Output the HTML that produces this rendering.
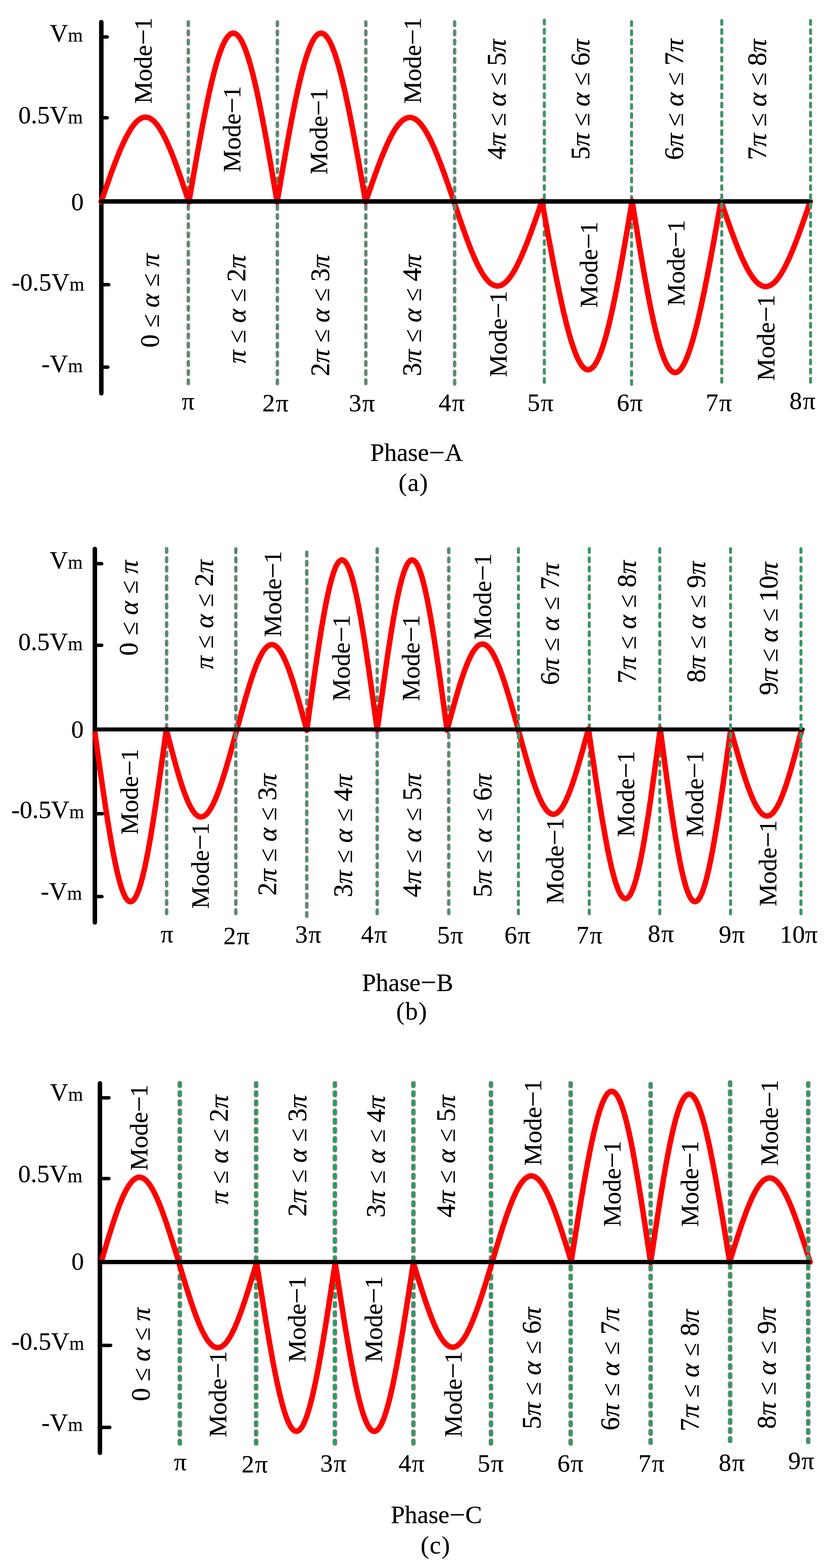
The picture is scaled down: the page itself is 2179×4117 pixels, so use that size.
<!DOCTYPE html>
<html lang="en"><head><meta charset="utf-8"><title>Phase waveforms</title>
<style>html,body{margin:0;padding:0;background:#fff}svg{display:block}text{font-family:"Liberation Serif","DejaVu Serif",serif;fill:#000;stroke:#000;stroke-width:0.3px}text.m{fill:#000;stroke:#000;stroke-width:0.4px}.i{font-style:italic}</style></head><body>
<svg width="2179" height="4117" viewBox="0 0 2179 4117" role="img" aria-label="Phase A, B and C waveforms">
<rect width="2179" height="4117" fill="#fff"/>
<defs><pattern id="p0" width="16" height="24.11" patternUnits="userSpaceOnUse"><rect x="5.07" y="1.65" width="5.85" height="15.5" rx="2.9" fill="#00b050" stroke="#7f7f7f" stroke-width="3.3"/></pattern><pattern id="p1" width="16" height="24.13" patternUnits="userSpaceOnUse"><rect x="4.85" y="0.95" width="6.3" height="16" rx="2.8" fill="#00b050" stroke="#7f7f7f" stroke-width="1.9"/></pattern><pattern id="p2" width="16" height="24.16" patternUnits="userSpaceOnUse"><rect x="4.85" y="0.95" width="6.3" height="16" rx="2.8" fill="#00b050" stroke="#7f7f7f" stroke-width="1.9"/></pattern><pattern id="p3" width="16" height="24.14" patternUnits="userSpaceOnUse"><rect x="5.07" y="1.65" width="5.85" height="15.5" rx="2.9" fill="#00b050" stroke="#7f7f7f" stroke-width="3.3"/></pattern><pattern id="p4" width="16" height="24.09" patternUnits="userSpaceOnUse"><rect x="4.85" y="0.95" width="6.3" height="16" rx="2.8" fill="#00b050" stroke="#7f7f7f" stroke-width="1.9"/></pattern><pattern id="p5" width="16" height="24.32" patternUnits="userSpaceOnUse"><rect x="5.07" y="1.65" width="5.85" height="15.5" rx="2.9" fill="#00b050" stroke="#7f7f7f" stroke-width="3.3"/></pattern><pattern id="p6" width="16" height="24.27" patternUnits="userSpaceOnUse"><rect x="5.07" y="1.65" width="5.85" height="15.5" rx="2.9" fill="#00b050" stroke="#7f7f7f" stroke-width="3.3"/></pattern><pattern id="p7" width="16" height="24.31" patternUnits="userSpaceOnUse"><rect x="5.07" y="1.65" width="5.85" height="15.5" rx="2.9" fill="#00b050" stroke="#7f7f7f" stroke-width="3.3"/></pattern><pattern id="p8" width="16" height="24.33" patternUnits="userSpaceOnUse"><rect x="4.85" y="0.95" width="6.3" height="16" rx="2.8" fill="#00b050" stroke="#7f7f7f" stroke-width="1.9"/></pattern><pattern id="p9" width="16" height="24.08" patternUnits="userSpaceOnUse"><rect x="3.45" y="1.5" width="9.1" height="15.8" rx="3.6" fill="#00b050" stroke="#7f7f7f" stroke-width="3"/></pattern><pattern id="p10" width="16" height="24.07" patternUnits="userSpaceOnUse"><rect x="3.45" y="1.5" width="9.1" height="15.8" rx="3.6" fill="#00b050" stroke="#7f7f7f" stroke-width="3"/></pattern><pattern id="p11" width="16" height="23.97" patternUnits="userSpaceOnUse"><rect x="3.45" y="1.5" width="9.1" height="15.8" rx="3.6" fill="#00b050" stroke="#7f7f7f" stroke-width="3"/></pattern><pattern id="p12" width="16" height="23.96" patternUnits="userSpaceOnUse"><rect x="3.45" y="1.5" width="9.1" height="15.8" rx="3.6" fill="#00b050" stroke="#7f7f7f" stroke-width="3"/></pattern></defs>
<g id="chart-a">
<rect transform="translate(486.4,52.9)" width="16" height="959.1" fill="url(#p0)"/>
<rect transform="translate(720.2,52.9)" width="16" height="959.1" fill="url(#p0)"/>
<rect transform="translate(952.4,52.9)" width="16" height="959.1" fill="url(#p0)"/>
<rect transform="translate(1421,49)" width="16" height="959" fill="url(#p1)"/>
<rect transform="translate(1650,53)" width="16" height="960" fill="url(#p2)"/>
<line x1="266" y1="57.9" x2="266" y2="1032.6" stroke="#000" stroke-width="11.8" stroke-linecap="round"/>
<path d="M265.5,530.2 271.52,512.73 277.53,495.37 283.54,478.22 289.53,461.39 295.5,444.99 301.46,429.11 307.39,413.86 313.3,399.32 319.17,385.59 325.02,372.76 330.84,360.89 336.62,350.07 342.38,340.36 348.11,331.82 353.81,324.51 359.48,318.46 365.14,313.73 370.77,310.32 376.39,308.28 382,307.6 387.6,308.3 393.19,310.36 398.79,313.79 404.39,318.54 409.99,324.61 415.61,331.94 421.24,340.5 426.88,350.23 432.54,361.07 438.22,372.96 443.92,385.81 449.63,399.56 455.37,414.12 461.12,429.39 466.89,445.29 472.67,461.71 478.47,478.56 484.27,495.73 490.09,513.11 495.9,530.6 501.9,495.8 507.9,461.21 513.89,427.04 519.86,393.52 525.82,360.84 531.77,329.21 537.69,298.82 543.58,269.86 549.45,242.5 555.29,216.93 561.11,193.28 566.9,171.72 572.66,152.37 578.39,135.35 584.1,120.77 589.79,108.71 595.46,99.26 601.12,92.46 606.76,88.37 612.4,87 618.03,88.37 623.66,92.46 629.3,99.26 634.94,108.71 640.59,120.77 646.25,135.35 651.94,152.37 657.64,171.72 663.35,193.28 669.09,216.93 674.86,242.5 680.64,269.86 686.44,298.82 692.27,329.21 698.11,360.84 703.97,393.52 709.84,427.04 715.72,461.21 721.61,495.8 727.5,530.6 733.4,495.8 739.3,461.21 745.2,427.04 751.08,393.52 756.95,360.84 762.81,329.21 768.64,298.82 774.46,269.86 780.26,242.5 786.03,216.93 791.79,193.28 797.52,171.72 803.24,152.37 808.94,135.35 814.62,120.77 820.29,108.71 825.95,99.26 831.6,92.46 837.25,88.37 842.9,87 848.56,88.37 854.22,92.46 859.9,99.26 865.59,108.71 871.3,120.77 877.04,135.35 882.8,152.37 888.58,171.72 894.39,193.28 900.23,216.93 906.1,242.5 912,269.86 917.92,298.82 923.87,329.21 929.84,360.84 935.83,393.52 941.83,427.04 947.85,461.21 953.87,495.8 959.9,530.6 965.85,513.18 971.79,495.87 977.73,478.78 983.66,462 989.57,445.64 995.46,429.81 1001.34,414.6 1007.19,400.09 1013.02,386.4 1018.82,373.59 1024.61,361.74 1030.36,350.93 1036.09,341.23 1041.8,332.69 1047.49,325.37 1053.17,319.31 1058.83,314.55 1064.47,311.11 1070.11,309.03 1075.75,308.3 1081.39,308.94 1087.03,310.94 1092.67,314.29 1098.33,318.97 1104.01,324.94 1109.7,332.18 1115.41,340.64 1121.14,350.25 1126.89,360.98 1132.67,372.74 1138.48,385.46 1144.31,399.07 1150.16,413.49 1156.04,428.62 1161.93,444.37 1167.84,460.64 1173.77,477.33 1179.71,494.34 1185.65,511.57 1191.6,528.9 1197.44,546.34 1203.28,563.67 1209.11,580.79 1214.94,597.59 1220.75,613.96 1226.54,629.81 1232.32,645.03 1238.09,659.54 1243.83,673.24 1249.55,686.05 1255.26,697.89 1260.94,708.69 1266.61,718.37 1272.26,726.89 1277.9,734.18 1283.53,740.21 1289.15,744.92 1294.76,748.31 1300.38,750.34 1306,751 1311.63,750.29 1317.27,748.21 1322.92,744.77 1328.59,740.01 1334.28,733.93 1340,726.59 1345.75,718.02 1351.52,708.29 1357.32,697.44 1363.15,685.55 1369.01,672.69 1374.9,658.94 1380.82,644.38 1386.77,629.11 1392.73,613.21 1398.72,596.79 1404.73,579.94 1410.74,562.77 1416.77,545.39 1422.8,527.9 1429.09,562.67 1435.37,597.22 1441.64,631.35 1447.89,664.84 1454.13,697.48 1460.34,729.08 1466.52,759.44 1472.68,788.37 1478.8,815.69 1484.88,841.24 1490.93,864.86 1496.95,886.4 1502.92,905.73 1508.86,922.72 1514.76,937.29 1520.64,949.33 1526.48,958.77 1532.29,965.55 1538.08,969.64 1543.85,971 1549.6,969.63 1555.34,965.53 1561.07,958.74 1566.8,949.29 1572.52,937.24 1578.25,922.66 1583.98,905.66 1589.72,886.32 1595.47,864.77 1601.23,841.14 1607.01,815.58 1612.8,788.25 1618.6,759.31 1624.41,728.94 1630.24,697.33 1636.08,664.68 1641.92,631.18 1647.78,597.04 1653.64,562.48 1659.5,527.7 1665.2,563.05 1670.9,598.18 1676.59,632.88 1682.27,666.93 1687.95,700.12 1693.62,732.25 1699.29,763.12 1704.94,792.54 1710.58,820.32 1716.21,846.3 1721.83,870.32 1727.45,892.22 1733.06,911.88 1738.67,929.17 1744.28,943.98 1749.89,956.23 1755.51,965.84 1761.14,972.74 1766.79,976.91 1772.45,978.3 1778.14,976.92 1783.85,972.76 1789.6,965.87 1795.37,956.27 1801.19,944.03 1807.04,929.23 1812.93,911.95 1818.87,892.3 1824.84,870.41 1830.86,846.4 1836.92,820.43 1843.01,792.66 1849.15,763.25 1855.32,732.39 1861.51,700.27 1867.74,667.09 1873.98,633.05 1880.25,598.36 1886.52,563.24 1892.8,527.9 1898.82,545.51 1904.83,563.01 1910.83,580.29 1916.83,597.25 1922.81,613.78 1928.77,629.79 1934.71,645.17 1940.63,659.82 1946.53,673.67 1952.4,686.61 1958.25,698.58 1964.07,709.5 1969.87,719.3 1975.65,727.92 1981.41,735.32 1987.15,741.43 1992.87,746.23 1998.59,749.69 2004.3,751.78 2010,752.5 2015.7,751.83 2021.41,749.79 2027.13,746.38 2032.85,741.63 2038.59,735.57 2044.35,728.22 2050.13,719.65 2055.93,709.9 2061.75,699.03 2067.6,687.11 2073.47,674.22 2079.37,660.42 2085.29,645.82 2091.23,630.49 2097.19,614.53 2103.17,598.05 2109.17,581.14 2115.17,563.91 2121.18,546.46 2127.2,528.9" fill="none" stroke="#ff0000" stroke-width="14.4" stroke-linejoin="round" stroke-linecap="round"/>
<line x1="266" y1="96.9" x2="281.5" y2="96.9" stroke="#000" stroke-width="9" stroke-linecap="round"/><line x1="266" y1="309.2" x2="281.5" y2="309.2" stroke="#000" stroke-width="9" stroke-linecap="round"/><line x1="266" y1="747.5" x2="285.5" y2="747.5" stroke="#000" stroke-width="9" stroke-linecap="round"/><line x1="266" y1="963.9" x2="283.1" y2="963.9" stroke="#000" stroke-width="9" stroke-linecap="round"/>
<rect transform="translate(1185.5,52.9)" width="16" height="960.1" fill="url(#p3)"/>
<line x1="266" y1="528.9" x2="2127.15" y2="528.9" stroke="#000" stroke-width="11.7" stroke-linecap="round"/>
<rect transform="translate(1886.8,50)" width="16" height="957.5" fill="url(#p4)"/>
<rect transform="translate(2119.9,50)" width="16" height="957.5" fill="url(#p4)"/>
<text x="217.4" y="108.8" font-size="66" text-anchor="end">V<tspan font-size="50">m</tspan></text>
<text x="217.4" y="323.8" font-size="66" text-anchor="end">0.5V<tspan font-size="50">m</tspan></text>
<text x="219.71" y="552.3" font-size="66" text-anchor="end">0</text>
<text x="221.5" y="763.2" font-size="66" text-anchor="end">-0.5V<tspan font-size="50">m</tspan></text>
<text x="217.4" y="976.7" font-size="66" text-anchor="end">-V<tspan font-size="50">m</tspan></text>
<text x="493.8" y="1075.3" font-size="66" text-anchor="middle">π</text>
<text x="723.1" y="1080.2" font-size="66" text-anchor="middle">2<tspan dx="2.2">π</tspan></text>
<text x="950" y="1080.2" font-size="66" text-anchor="middle">3<tspan dx="2.2">π</tspan></text>
<text x="1185.75" y="1078.6" font-size="66" text-anchor="middle">4<tspan dx="2.2">π</tspan></text>
<text x="1418.75" y="1078.6" font-size="66" text-anchor="middle">5<tspan dx="2.2">π</tspan></text>
<text x="1653.4" y="1078.6" font-size="66" text-anchor="middle">6<tspan dx="2.2">π</tspan></text>
<text x="1887" y="1078.6" font-size="66" text-anchor="middle">7<tspan dx="2.2">π</tspan></text>
<text x="2106.75" y="1074.4" font-size="66" text-anchor="middle">8<tspan dx="2.2">π</tspan></text>
<text transform="translate(398.44,272.31) rotate(-90)" font-size="66">Mode<tspan font-size="74" dy="2.6">−</tspan><tspan dy="-2.6" dx="-2.5">1</tspan></text>
<text transform="translate(630.94,451.91) rotate(-90)" font-size="66">Mode<tspan font-size="74" dy="2.6">−</tspan><tspan dy="-2.6" dx="-2.5">1</tspan></text>
<text transform="translate(858.54,457.91) rotate(-90)" font-size="66">Mode<tspan font-size="74" dy="2.6">−</tspan><tspan dy="-2.6" dx="-2.5">1</tspan></text>
<text transform="translate(1104.94,271.91) rotate(-90)" font-size="66">Mode<tspan font-size="74" dy="2.6">−</tspan><tspan dy="-2.6" dx="-2.5">1</tspan></text>
<text transform="translate(1329.94,989.91) rotate(-90)" font-size="66">Mode<tspan font-size="74" dy="2.6">−</tspan><tspan dy="-2.6" dx="-2.5">1</tspan></text>
<text transform="translate(1567.74,807.91) rotate(-90)" font-size="66">Mode<tspan font-size="74" dy="2.6">−</tspan><tspan dy="-2.6" dx="-2.5">1</tspan></text>
<text transform="translate(1796.64,803.51) rotate(-90)" font-size="66">Mode<tspan font-size="74" dy="2.6">−</tspan><tspan dy="-2.6" dx="-2.5">1</tspan></text>
<text transform="translate(2032.94,999.91) rotate(-90)" font-size="66">Mode<tspan font-size="74" dy="2.6">−</tspan><tspan dy="-2.6" dx="-2.5">1</tspan></text>
<text transform="translate(416.7,912.66) rotate(-90)" font-size="70" class="m" textLength="247.06" lengthAdjust="spacing">0 <tspan font-size="64">≤</tspan> <tspan class="i">α</tspan> <tspan font-size="64">≤</tspan> <tspan class="i">π</tspan></text>
<text transform="translate(644.1,954.35) rotate(-90)" font-size="70" class="m" textLength="285.05" lengthAdjust="spacing"><tspan class="i">π</tspan> <tspan font-size="64">≤</tspan> <tspan class="i">α</tspan> <tspan font-size="64">≤</tspan> 2<tspan class="i">π</tspan></text>
<text transform="translate(864.3,987.66) rotate(-90)" font-size="70" class="m" textLength="318.46" lengthAdjust="spacing">2<tspan class="i">π</tspan> <tspan font-size="64">≤</tspan> <tspan class="i">α</tspan> <tspan font-size="64">≤</tspan> 3<tspan class="i">π</tspan></text>
<text transform="translate(1105.3,987.66) rotate(-90)" font-size="70" class="m" textLength="319.26" lengthAdjust="spacing">3<tspan class="i">π</tspan> <tspan font-size="64">≤</tspan> <tspan class="i">α</tspan> <tspan font-size="64">≤</tspan> 4<tspan class="i">π</tspan></text>
<text transform="translate(1327.3,419.16) rotate(-90)" font-size="70" class="m" textLength="316.26" lengthAdjust="spacing">4<tspan class="i">π</tspan> <tspan font-size="64">≤</tspan> <tspan class="i">α</tspan> <tspan font-size="64">≤</tspan> 5<tspan class="i">π</tspan></text>
<text transform="translate(1547.3,419.16) rotate(-90)" font-size="70" class="m" textLength="316.26" lengthAdjust="spacing">5<tspan class="i">π</tspan> <tspan font-size="64">≤</tspan> <tspan class="i">α</tspan> <tspan font-size="64">≤</tspan> 6<tspan class="i">π</tspan></text>
<text transform="translate(1793,420.16) rotate(-90)" font-size="70" class="m" textLength="318.26" lengthAdjust="spacing">6<tspan class="i">π</tspan> <tspan font-size="64">≤</tspan> <tspan class="i">α</tspan> <tspan font-size="64">≤</tspan> 7<tspan class="i">π</tspan></text>
<text transform="translate(2010.8,420.16) rotate(-90)" font-size="70" class="m" textLength="317.26" lengthAdjust="spacing">7<tspan class="i">π</tspan> <tspan font-size="64">≤</tspan> <tspan class="i">α</tspan> <tspan font-size="64">≤</tspan> 8<tspan class="i">π</tspan></text>
<text x="1093.75" y="1209.9" font-size="66" text-anchor="middle">Phase<tspan font-size="74" dy="2.6">−</tspan><tspan dy="-2.6">A</tspan></text>
<text x="1085.75" y="1289.1" font-size="66" text-anchor="middle" letter-spacing="1.9">(a)</text>
</g>
<g id="chart-b">
<rect transform="translate(429.4,1436)" width="16" height="967.3" fill="url(#p5)"/>
<rect transform="translate(797.3,1445.3)" width="16" height="965.3" fill="url(#p6)"/>
<rect transform="translate(982.3,1436.5)" width="16" height="966.8" fill="url(#p7)"/>
<rect transform="translate(1170.1,1436.5)" width="16" height="966.8" fill="url(#p7)"/>
<rect transform="translate(1539,1436.5)" width="16" height="966.8" fill="url(#p8)"/>
<rect transform="translate(1724.1,1436.5)" width="16" height="966.8" fill="url(#p8)"/>
<line x1="249.0" y1="1441.5" x2="249.0" y2="2421.8" stroke="#000" stroke-width="11.8" stroke-linecap="round"/>
<path d="M249.3,1924.2 254.14,1959.12 258.97,1993.83 263.8,2028.11 268.62,2061.74 273.42,2094.52 278.2,2126.24 282.97,2156.7 287.71,2185.73 292.43,2213.13 297.12,2238.73 301.8,2262.39 306.44,2283.94 311.06,2303.26 315.66,2320.22 320.24,2334.72 324.81,2346.67 329.36,2356 333.89,2362.63 338.42,2366.54 342.95,2367.7 347.48,2366.09 352.01,2361.73 356.54,2354.65 361.09,2344.87 365.66,2332.47 370.24,2317.52 374.84,2300.11 379.46,2280.34 384.1,2258.34 388.78,2234.23 393.47,2208.18 398.19,2180.33 402.93,2150.85 407.7,2119.94 412.48,2087.77 417.28,2054.54 422.1,2020.46 426.93,1985.73 431.76,1950.57 436.6,1915.2 441.27,1933.23 445.93,1951.15 450.59,1968.85 455.23,1986.21 459.87,2003.14 464.49,2019.53 469.1,2035.27 473.69,2050.27 478.26,2064.44 482.82,2077.69 487.36,2089.94 491.88,2101.11 496.38,2111.14 500.87,2119.95 505.35,2127.51 509.83,2133.75 514.29,2138.65 518.76,2142.17 523.23,2144.29 527.7,2145 532.18,2144.29 536.68,2142.17 541.2,2138.65 545.73,2133.75 550.29,2127.51 554.88,2119.95 559.49,2111.14 564.13,2101.11 568.81,2089.94 573.52,2077.69 578.26,2064.44 583.03,2050.27 587.83,2035.27 592.65,2019.53 597.51,2003.14 602.38,1986.21 607.27,1968.85 612.17,1951.15 617.08,1933.23 622,1915.2 626.74,1897.69 631.48,1880.29 636.21,1863.11 640.93,1846.25 645.63,1829.82 650.32,1813.91 654.99,1798.63 659.63,1784.07 664.25,1770.33 668.85,1757.48 673.42,1745.61 677.97,1734.78 682.5,1725.07 687,1716.54 691.48,1709.24 695.95,1703.22 700.4,1698.51 704.84,1695.14 709.27,1693.13 713.7,1692.5 718.13,1693.25 722.56,1695.38 727,1698.87 731.45,1703.7 735.92,1709.84 740.4,1717.26 744.9,1725.91 749.43,1735.74 753.98,1746.69 758.55,1758.68 763.15,1771.65 767.77,1785.51 772.41,1800.19 777.08,1815.59 781.77,1831.62 786.47,1848.17 791.19,1865.15 795.92,1882.45 800.66,1899.97 805.4,1917.6 810.18,1882.48 814.95,1847.59 819.72,1813.12 824.48,1779.29 829.22,1746.32 833.94,1714.41 838.65,1683.75 843.33,1654.53 847.99,1626.93 852.62,1601.12 857.24,1577.26 861.82,1555.5 866.38,1535.98 870.92,1518.8 875.44,1504.09 879.95,1491.92 884.44,1482.38 888.91,1475.52 893.38,1471.38 897.85,1470 902.32,1471.37 906.79,1475.5 911.26,1482.35 915.75,1491.88 920.26,1504.04 924.78,1518.74 929.32,1535.91 933.88,1555.42 938.46,1577.17 943.07,1601.02 947.71,1626.82 952.37,1654.41 957.05,1683.62 961.76,1714.27 966.48,1746.17 971.22,1779.13 975.98,1812.95 980.75,1847.41 985.52,1882.29 990.3,1917.4 995.04,1882.3 999.78,1847.42 1004.51,1812.96 1009.23,1779.16 1013.93,1746.2 1018.62,1714.3 1023.29,1683.65 1027.93,1654.44 1032.55,1626.86 1037.15,1601.06 1041.72,1577.22 1046.27,1555.47 1050.8,1535.95 1055.3,1518.78 1059.78,1504.07 1064.25,1491.91 1068.7,1482.37 1073.14,1475.52 1077.57,1471.38 1082,1470 1086.43,1471.37 1090.86,1475.5 1095.3,1482.34 1099.75,1491.87 1104.22,1504.02 1108.7,1518.72 1113.2,1535.88 1117.73,1555.39 1122.28,1577.13 1126.85,1600.96 1131.45,1626.75 1136.07,1654.32 1140.71,1683.52 1145.38,1714.16 1150.07,1746.05 1154.77,1779 1159.49,1812.79 1164.22,1847.24 1168.96,1882.11 1173.7,1917.2 1178.46,1899.48 1183.22,1881.87 1187.98,1864.48 1192.72,1847.41 1197.45,1830.77 1202.17,1814.66 1206.86,1799.18 1211.54,1784.43 1216.2,1770.49 1220.83,1757.46 1225.45,1745.41 1230.04,1734.41 1234.62,1724.54 1239.18,1715.85 1243.72,1708.39 1248.25,1702.22 1252.77,1697.37 1257.28,1693.87 1261.79,1691.74 1266.3,1691 1270.82,1691.64 1275.34,1693.67 1279.88,1697.07 1284.43,1701.82 1289,1707.89 1293.6,1715.25 1298.22,1723.84 1302.86,1733.61 1307.53,1744.51 1312.23,1756.46 1316.96,1769.39 1321.72,1783.23 1326.5,1797.88 1331.31,1813.26 1336.14,1829.27 1340.99,1845.81 1345.85,1862.78 1350.73,1880.07 1355.61,1897.58 1360.5,1915.2 1365.27,1932.7 1370.03,1950.1 1374.78,1967.27 1379.53,1984.13 1384.26,2000.56 1388.97,2016.46 1393.66,2031.74 1398.33,2046.3 1402.98,2060.05 1407.6,2072.9 1412.2,2084.78 1416.77,2095.61 1421.32,2105.32 1425.85,2113.86 1430.36,2121.17 1434.85,2127.21 1439.32,2131.94 1443.79,2135.32 1448.25,2137.35 1452.7,2138 1457.15,2137.27 1461.61,2135.17 1466.08,2131.71 1470.55,2126.91 1475.04,2120.8 1479.55,2113.41 1484.08,2104.8 1488.63,2095.01 1493.2,2084.1 1497.8,2072.15 1502.42,2059.22 1507.07,2045.4 1511.74,2030.77 1516.43,2015.41 1521.14,1999.44 1525.87,1982.93 1530.62,1966 1535.37,1948.75 1540.13,1931.28 1544.9,1913.7 1549.99,1948.68 1555.08,1983.45 1560.16,2017.79 1565.22,2051.49 1570.27,2084.34 1575.29,2116.13 1580.28,2146.68 1585.24,2175.79 1590.16,2203.29 1595.05,2229 1599.9,2252.77 1604.72,2274.44 1609.49,2293.89 1614.23,2311 1618.94,2325.66 1623.61,2337.78 1628.24,2347.28 1632.85,2354.11 1637.44,2358.23 1642,2359.6 1646.54,2358.23 1651.08,2354.11 1655.6,2347.28 1660.11,2337.78 1664.62,2325.66 1669.13,2311 1673.65,2293.89 1678.18,2274.44 1682.71,2252.77 1687.25,2229 1691.81,2203.29 1696.37,2175.79 1700.95,2146.68 1705.55,2116.13 1710.15,2084.34 1714.77,2051.49 1719.39,2017.79 1724.02,1983.45 1728.66,1948.68 1733.3,1913.7 1737.98,1949.28 1742.66,1984.65 1747.33,2019.57 1752,2053.85 1756.65,2087.26 1761.28,2119.61 1765.9,2150.68 1770.51,2180.3 1775.09,2208.27 1779.66,2234.43 1784.2,2258.61 1788.73,2280.68 1793.24,2300.48 1797.74,2317.9 1802.22,2332.83 1806.69,2345.18 1811.16,2354.87 1815.62,2361.85 1820.08,2366.07 1824.55,2367.5 1829.03,2366.14 1833.51,2362 1838.01,2355.09 1842.54,2345.48 1847.08,2333.2 1851.65,2318.35 1856.24,2301 1860.87,2281.28 1865.52,2259.29 1870.21,2235.18 1874.92,2209.09 1879.66,2181.2 1884.44,2151.66 1889.24,2120.66 1894.06,2088.39 1898.9,2055.05 1903.76,2020.85 1908.63,1986 1913.51,1950.71 1918.4,1915.2 1923.37,1933.01 1928.34,1950.72 1933.3,1968.2 1938.25,1985.36 1943.17,2002.09 1948.08,2018.28 1952.96,2033.84 1957.8,2048.67 1962.62,2062.69 1967.41,2075.79 1972.16,2087.91 1976.87,2098.96 1981.55,2108.89 1986.2,2117.62 1990.81,2125.12 1995.4,2131.32 1999.96,2136.19 2004.49,2139.71 2009,2141.85 2013.5,2142.6 2017.98,2141.95 2022.45,2139.91 2026.92,2136.49 2031.38,2131.72 2035.85,2125.62 2040.32,2118.22 2044.8,2109.59 2049.29,2099.76 2053.79,2088.81 2058.31,2076.79 2062.84,2063.79 2067.38,2049.87 2071.94,2035.14 2076.52,2019.68 2081.11,2003.59 2085.71,1986.96 2090.32,1969.9 2094.95,1952.52 2099.57,1934.91 2104.2,1917.2" fill="none" stroke="#ff0000" stroke-width="14.4" stroke-linejoin="round" stroke-linecap="round"/>
<line x1="249.0" y1="1480" x2="267" y2="1480" stroke="#000" stroke-width="9" stroke-linecap="round"/><line x1="249.0" y1="1694.2" x2="267" y2="1694.2" stroke="#000" stroke-width="9" stroke-linecap="round"/><line x1="249.0" y1="2136.6" x2="268.8" y2="2136.6" stroke="#000" stroke-width="9" stroke-linecap="round"/><line x1="249.0" y1="2354.1" x2="267.7" y2="2354.1" stroke="#000" stroke-width="9" stroke-linecap="round"/>
<rect transform="translate(611.1,1436.5)" width="16" height="966.8" fill="url(#p7)"/>
<rect transform="translate(1353,1436.5)" width="16" height="966.8" fill="url(#p8)"/>
<line x1="249" y1="1915.2" x2="2107.5" y2="1915.2" stroke="#000" stroke-width="10.6" stroke-linecap="round"/>
<rect x="243.1" y="1909.9" width="11.8" height="10.6" fill="#000"/>
<rect transform="translate(1909.9,1436.5)" width="16" height="966.8" fill="url(#p8)"/>
<rect transform="translate(2094.7,1436.5)" width="16" height="966.8" fill="url(#p8)"/>
<text x="217.2" y="1492.5" font-size="66" text-anchor="end">V<tspan font-size="50">m</tspan></text>
<text x="217.2" y="1707.1" font-size="66" text-anchor="end">0.5V<tspan font-size="50">m</tspan></text>
<text x="219.71" y="1936.8" font-size="66" text-anchor="end">0</text>
<text x="220.8" y="2148.4" font-size="66" text-anchor="end">-0.5V<tspan font-size="50">m</tspan></text>
<text x="215.4" y="2362" font-size="66" text-anchor="end">-V<tspan font-size="50">m</tspan></text>
<text x="438.45" y="2473.5" font-size="66" text-anchor="middle">π</text>
<text x="620.75" y="2478.6" font-size="66" text-anchor="middle">2<tspan dx="2.2">π</tspan></text>
<text x="809" y="2475" font-size="66" text-anchor="middle">3<tspan dx="2.2">π</tspan></text>
<text x="982.05" y="2474.6" font-size="66" text-anchor="middle">4<tspan dx="2.2">π</tspan></text>
<text x="1181.9" y="2477.2" font-size="66" text-anchor="middle">5<tspan dx="2.2">π</tspan></text>
<text x="1358.45" y="2477.2" font-size="66" text-anchor="middle">6<tspan dx="2.2">π</tspan></text>
<text x="1547.3" y="2476.6" font-size="66" text-anchor="middle">7<tspan dx="2.2">π</tspan></text>
<text x="1734.95" y="2473.2" font-size="66" text-anchor="middle">8<tspan dx="2.2">π</tspan></text>
<text x="1921.35" y="2474.6" font-size="66" text-anchor="middle">9<tspan dx="2.2">π</tspan></text>
<text x="2096.95" y="2474.9" font-size="66" text-anchor="middle">10π</text>
<text transform="translate(362.14,2191.71) rotate(-90)" font-size="66">Mode<tspan font-size="74" dy="2.6">−</tspan><tspan dy="-2.6" dx="-2.5">1</tspan></text>
<text transform="translate(547.74,2386.11) rotate(-90)" font-size="66">Mode<tspan font-size="74" dy="2.6">−</tspan><tspan dy="-2.6" dx="-2.5">1</tspan></text>
<text transform="translate(737.94,1672.61) rotate(-90)" font-size="66">Mode<tspan font-size="74" dy="2.6">−</tspan><tspan dy="-2.6" dx="-2.5">1</tspan></text>
<text transform="translate(918.34,1840.81) rotate(-90)" font-size="66">Mode<tspan font-size="74" dy="2.6">−</tspan><tspan dy="-2.6" dx="-2.5">1</tspan></text>
<text transform="translate(1100.94,1840.81) rotate(-90)" font-size="66">Mode<tspan font-size="74" dy="2.6">−</tspan><tspan dy="-2.6" dx="-2.5">1</tspan></text>
<text transform="translate(1289.44,1679.21) rotate(-90)" font-size="66">Mode<tspan font-size="74" dy="2.6">−</tspan><tspan dy="-2.6" dx="-2.5">1</tspan></text>
<text transform="translate(1478.74,2373.81) rotate(-90)" font-size="66">Mode<tspan font-size="74" dy="2.6">−</tspan><tspan dy="-2.6" dx="-2.5">1</tspan></text>
<text transform="translate(1665.14,2197.71) rotate(-90)" font-size="66">Mode<tspan font-size="74" dy="2.6">−</tspan><tspan dy="-2.6" dx="-2.5">1</tspan></text>
<text transform="translate(1845.54,2197.71) rotate(-90)" font-size="66">Mode<tspan font-size="74" dy="2.6">−</tspan><tspan dy="-2.6" dx="-2.5">1</tspan></text>
<text transform="translate(2037.94,2379.51) rotate(-90)" font-size="66">Mode<tspan font-size="74" dy="2.6">−</tspan><tspan dy="-2.6" dx="-2.5">1</tspan></text>
<text transform="translate(360.6,1721.66) rotate(-90)" font-size="70" class="m" textLength="250.56" lengthAdjust="spacing">0 <tspan font-size="64">≤</tspan> <tspan class="i">α</tspan> <tspan font-size="64">≤</tspan> <tspan class="i">π</tspan></text>
<text transform="translate(559.1,1756.95) rotate(-90)" font-size="70" class="m" textLength="287.35" lengthAdjust="spacing"><tspan class="i">π</tspan> <tspan font-size="64">≤</tspan> <tspan class="i">α</tspan> <tspan font-size="64">≤</tspan> 2<tspan class="i">π</tspan></text>
<text transform="translate(725,2351.66) rotate(-90)" font-size="70" class="m" textLength="320.36" lengthAdjust="spacing">2<tspan class="i">π</tspan> <tspan font-size="64">≤</tspan> <tspan class="i">α</tspan> <tspan font-size="64">≤</tspan> 3<tspan class="i">π</tspan></text>
<text transform="translate(924,2356.06) rotate(-90)" font-size="70" class="m" textLength="322.66" lengthAdjust="spacing">3<tspan class="i">π</tspan> <tspan font-size="64">≤</tspan> <tspan class="i">α</tspan> <tspan font-size="64">≤</tspan> 4<tspan class="i">π</tspan></text>
<text transform="translate(1104.9,2356.06) rotate(-90)" font-size="70" class="m" textLength="324.76" lengthAdjust="spacing">4<tspan class="i">π</tspan> <tspan font-size="64">≤</tspan> <tspan class="i">α</tspan> <tspan font-size="64">≤</tspan> 5<tspan class="i">π</tspan></text>
<text transform="translate(1289.8,2356.06) rotate(-90)" font-size="70" class="m" textLength="323.96" lengthAdjust="spacing">5<tspan class="i">π</tspan> <tspan font-size="64">≤</tspan> <tspan class="i">α</tspan> <tspan font-size="64">≤</tspan> 6<tspan class="i">π</tspan></text>
<text transform="translate(1467.3,1798.86) rotate(-90)" font-size="70" class="m" textLength="320.46" lengthAdjust="spacing">6<tspan class="i">π</tspan> <tspan font-size="64">≤</tspan> <tspan class="i">α</tspan> <tspan font-size="64">≤</tspan> 7<tspan class="i">π</tspan></text>
<text transform="translate(1669.4,1794.46) rotate(-90)" font-size="70" class="m" textLength="322.66" lengthAdjust="spacing">7<tspan class="i">π</tspan> <tspan font-size="64">≤</tspan> <tspan class="i">α</tspan> <tspan font-size="64">≤</tspan> 8<tspan class="i">π</tspan></text>
<text transform="translate(1851.3,1792.26) rotate(-90)" font-size="70" class="m" textLength="318.26" lengthAdjust="spacing">8<tspan class="i">π</tspan> <tspan font-size="64">≤</tspan> <tspan class="i">α</tspan> <tspan font-size="64">≤</tspan> 9<tspan class="i">π</tspan></text>
<text transform="translate(2041.3,1825.26) rotate(-90)" font-size="70" class="m" textLength="349.06" lengthAdjust="spacing">9<tspan class="i">π</tspan> <tspan font-size="64">≤</tspan> <tspan class="i">α</tspan> <tspan font-size="64">≤</tspan> 10<tspan class="i">π</tspan></text>
<text x="1070" y="2601.6" font-size="66" text-anchor="middle">Phase<tspan font-size="74" dy="2.6">−</tspan><tspan dy="-2.6">B</tspan></text>
<text x="1081.35" y="2676.9" font-size="66" text-anchor="middle" letter-spacing="1.9">(b)</text>
</g>
<g id="chart-c">
<rect transform="translate(464.1,2838.2)" width="16" height="957.8" fill="url(#p9)"/>
<rect transform="translate(664.4,2838.4)" width="16" height="957.6" fill="url(#p10)"/>
<rect transform="translate(871.2,2838.4)" width="16" height="957.6" fill="url(#p10)"/>
<rect transform="translate(1077.3,2838.4)" width="16" height="957.6" fill="url(#p10)"/>
<rect transform="translate(1281,2838.4)" width="16" height="957.6" fill="url(#p10)"/>
<rect transform="translate(1490.2,2838.4)" width="16" height="957.6" fill="url(#p10)"/>
<rect transform="translate(1700.1,2840.6)" width="16" height="953.8" fill="url(#p11)"/>
<rect transform="translate(1908.8,2836.2)" width="16" height="953.3" fill="url(#p12)"/>
<line x1="262.3" y1="2844.3" x2="262.3" y2="3814.5" stroke="#000" stroke-width="11.8" stroke-linecap="round"/>
<path d="M265.7,3313.7 270.84,3296.23 275.98,3278.86 281.11,3261.71 286.24,3244.88 291.35,3228.48 296.44,3212.6 301.52,3197.34 306.59,3182.8 311.63,3169.07 316.66,3156.23 321.66,3144.36 326.65,3133.53 331.62,3123.82 336.58,3115.27 341.52,3107.95 346.45,3101.9 351.38,3097.15 356.3,3093.74 361.22,3091.69 366.15,3091 371.09,3091.69 376.03,3093.74 380.99,3097.15 385.98,3101.9 390.98,3107.95 396.01,3115.27 401.06,3123.82 406.15,3133.53 411.26,3144.36 416.41,3156.23 421.58,3169.07 426.78,3182.8 432.02,3197.34 437.28,3212.6 442.56,3228.48 447.86,3244.88 453.18,3261.71 458.51,3278.86 463.85,3296.23 469.2,3313.7 474.47,3331.32 479.73,3348.84 484.99,3366.14 490.24,3383.11 495.47,3399.66 500.68,3415.68 505.88,3431.07 511.05,3445.74 516.2,3459.6 521.33,3472.56 526.43,3484.55 531.5,3495.48 536.55,3505.3 541.58,3513.93 546.59,3521.34 551.59,3527.47 556.57,3532.29 561.53,3535.76 566.49,3537.87 571.45,3538.6 576.41,3537.95 581.37,3535.92 586.33,3532.53 591.31,3527.79 596.31,3521.74 601.32,3514.41 606.35,3505.86 611.4,3496.12 616.47,3485.27 621.58,3473.36 626.7,3460.48 631.85,3446.7 637.02,3432.11 642.22,3416.8 647.43,3400.86 652.66,3384.39 657.91,3367.5 663.17,3350.28 668.43,3332.84 673.7,3315.3 679.12,3350.06 684.53,3384.6 689.93,3418.72 695.32,3452.19 700.69,3484.83 706.04,3516.42 711.37,3546.77 716.68,3575.69 721.95,3603.01 727.19,3628.55 732.41,3652.16 737.59,3673.69 742.75,3693.02 747.87,3710.02 752.97,3724.58 758.04,3736.62 763.1,3746.06 768.13,3752.85 773.14,3756.93 778.15,3758.3 783.15,3756.93 788.14,3752.85 793.13,3746.06 798.13,3736.62 803.13,3724.58 808.14,3710.02 813.17,3693.02 818.21,3673.69 823.27,3652.16 828.34,3628.55 833.44,3603.01 838.55,3575.69 843.69,3546.77 848.84,3516.42 854,3484.83 859.18,3452.19 864.38,3418.72 869.58,3384.6 874.79,3350.06 880,3315.3 885.29,3350.06 890.57,3384.6 895.84,3418.72 901.11,3452.19 906.36,3484.83 911.59,3516.42 916.8,3546.77 921.99,3575.69 927.16,3603.01 932.3,3628.55 937.42,3652.16 942.51,3673.69 947.58,3693.02 952.63,3710.02 957.66,3724.58 962.67,3736.62 967.66,3746.06 972.65,3752.85 977.63,3756.93 982.6,3758.3 987.57,3756.93 992.55,3752.85 997.54,3746.06 1002.53,3736.62 1007.54,3724.58 1012.57,3710.02 1017.62,3693.02 1022.69,3673.69 1027.78,3652.16 1032.9,3628.55 1038.04,3603.01 1043.21,3575.69 1048.4,3546.77 1053.61,3516.42 1058.84,3484.83 1064.09,3452.19 1069.36,3418.72 1074.63,3384.6 1079.91,3350.06 1085.2,3315.3 1090.53,3332.74 1095.85,3350.07 1101.17,3367.19 1106.48,3383.99 1111.77,3400.36 1117.04,3416.21 1122.3,3431.43 1127.53,3445.94 1132.74,3459.64 1137.92,3472.44 1143.09,3484.28 1148.22,3495.07 1153.33,3504.75 1158.42,3513.26 1163.49,3520.54 1168.55,3526.56 1173.59,3531.26 1178.61,3534.64 1183.63,3536.65 1188.65,3537.3 1193.67,3536.57 1198.69,3534.48 1203.71,3531.02 1208.75,3526.24 1213.81,3520.14 1218.88,3512.78 1223.97,3504.19 1229.08,3494.43 1234.21,3483.56 1239.38,3471.64 1244.56,3458.76 1249.77,3444.98 1255,3430.39 1260.26,3415.09 1265.53,3399.16 1270.82,3382.71 1276.13,3365.83 1281.45,3348.63 1286.77,3331.22 1292.1,3313.7 1297.35,3295.97 1302.6,3278.36 1307.84,3260.96 1313.07,3243.88 1318.29,3227.24 1323.49,3211.12 1328.68,3195.64 1333.85,3180.88 1339,3166.94 1344.13,3153.91 1349.24,3141.85 1354.33,3130.86 1359.41,3120.98 1364.46,3112.3 1369.51,3104.85 1374.55,3098.68 1379.57,3093.84 1384.6,3090.35 1389.62,3088.23 1394.65,3087.5 1399.68,3088.16 1404.73,3090.2 1409.79,3093.62 1414.87,3098.38 1419.97,3104.47 1425.1,3111.85 1430.25,3120.46 1435.43,3130.26 1440.64,3141.18 1445.88,3153.16 1451.15,3166.12 1456.44,3179.98 1461.77,3194.67 1467.12,3210.07 1472.5,3226.11 1477.89,3242.68 1483.3,3259.68 1488.73,3277.01 1494.16,3294.55 1499.6,3312.2 1505.13,3277.08 1510.66,3242.19 1516.17,3207.72 1521.68,3173.9 1527.16,3140.93 1532.62,3109.03 1538.06,3078.38 1543.47,3049.17 1548.84,3021.59 1554.18,2995.8 1559.49,2971.97 1564.77,2950.25 1570.01,2930.76 1575.22,2913.62 1580.4,2898.96 1585.55,2886.84 1590.67,2877.36 1595.76,2870.57 1600.84,2866.51 1605.9,2865.2 1610.95,2866.66 1615.99,2870.88 1621.02,2877.83 1626.05,2887.46 1631.08,2899.73 1636.12,2914.55 1641.17,2931.84 1646.23,2951.49 1651.3,2973.37 1656.38,2997.35 1661.49,3023.29 1666.6,3051.03 1671.74,3080.39 1676.88,3111.2 1682.05,3143.26 1687.22,3176.38 1692.41,3210.36 1697.6,3244.98 1702.8,3280.03 1708,3315.3 1713.14,3280.6 1718.28,3246.11 1723.41,3212.04 1728.53,3178.62 1733.65,3146.03 1738.75,3114.49 1743.85,3084.18 1748.92,3055.3 1753.99,3028.01 1759.04,3002.5 1764.07,2978.91 1769.1,2957.4 1774.11,2938.08 1779.12,2921.09 1784.12,2906.53 1789.12,2894.48 1794.11,2885.03 1799.12,2878.22 1804.13,2874.1 1809.15,2872.7 1814.19,2874.02 1819.25,2878.06 1824.33,2884.79 1829.44,2894.16 1834.58,2906.13 1839.75,2920.61 1844.95,2937.52 1850.2,2956.76 1855.47,2978.19 1860.79,3001.7 1866.14,3027.13 1871.52,3054.34 1876.94,3083.14 1882.39,3113.37 1887.86,3144.83 1893.36,3177.34 1898.88,3210.68 1904.41,3244.67 1909.95,3279.08 1915.5,3313.7 1920.88,3296.37 1926.26,3279.14 1931.64,3262.13 1937,3245.44 1942.35,3229.17 1947.69,3213.41 1953,3198.28 1958.3,3183.86 1963.58,3170.24 1968.83,3157.5 1974.06,3145.73 1979.27,3134.99 1984.47,3125.35 1989.64,3116.88 1994.8,3109.62 1999.94,3103.61 2005.08,3098.9 2010.2,3095.52 2015.33,3093.48 2020.45,3092.8 2025.58,3093.48 2030.71,3095.52 2035.86,3098.9 2041.03,3103.61 2046.21,3109.62 2051.41,3116.88 2056.64,3125.35 2061.89,3134.99 2067.17,3145.73 2072.48,3157.5 2077.82,3170.24 2083.18,3183.86 2088.57,3198.28 2093.98,3213.41 2099.41,3229.17 2104.87,3245.44 2110.34,3262.13 2115.82,3279.14 2121.31,3296.37 2126.8,3313.7" fill="none" stroke="#ff0000" stroke-width="14.4" stroke-linejoin="round" stroke-linecap="round"/>
<line x1="262.3" y1="2882.4" x2="286" y2="2882.4" stroke="#000" stroke-width="9" stroke-linecap="round"/><line x1="262.3" y1="3094.6" x2="286" y2="3094.6" stroke="#000" stroke-width="9" stroke-linecap="round"/><line x1="262.3" y1="3532.4" x2="290.5" y2="3532.4" stroke="#000" stroke-width="9" stroke-linecap="round"/><line x1="262.3" y1="3747.7" x2="288.2" y2="3747.7" stroke="#000" stroke-width="9" stroke-linecap="round"/>
<rect transform="translate(2113.8,2838.4)" width="16" height="953.8" fill="url(#p11)"/>
<line x1="262.3" y1="3313.7" x2="2124.1" y2="3313.7" stroke="#000" stroke-width="11.2" stroke-linecap="round"/>
<rect x="256.4" y="3308.1" width="11.8" height="11.2" fill="#000"/>
<text x="217.8" y="2890.2" font-size="66" text-anchor="end">V<tspan font-size="50">m</tspan></text>
<text x="216.5" y="3103.7" font-size="66" text-anchor="end">0.5V<tspan font-size="50">m</tspan></text>
<text x="220.51" y="3334.2" font-size="66" text-anchor="end">0</text>
<text x="220.8" y="3544.2" font-size="66" text-anchor="end">-0.5V<tspan font-size="50">m</tspan></text>
<text x="217.4" y="3756.8" font-size="66" text-anchor="end">-V<tspan font-size="50">m</tspan></text>
<text x="473.3" y="3860.3" font-size="66" text-anchor="middle">π</text>
<text x="668.45" y="3866.2" font-size="66" text-anchor="middle">2<tspan dx="2.2">π</tspan></text>
<text x="875" y="3864" font-size="66" text-anchor="middle">3<tspan dx="2.2">π</tspan></text>
<text x="1080.4" y="3864" font-size="66" text-anchor="middle">4<tspan dx="2.2">π</tspan></text>
<text x="1287.95" y="3864" font-size="66" text-anchor="middle">5<tspan dx="2.2">π</tspan></text>
<text x="1497.45" y="3864" font-size="66" text-anchor="middle">6<tspan dx="2.2">π</tspan></text>
<text x="1710.2" y="3864" font-size="66" text-anchor="middle">7<tspan dx="2.2">π</tspan></text>
<text x="1921.1" y="3861.8" font-size="66" text-anchor="middle">8<tspan dx="2.2">π</tspan></text>
<text x="2103.4" y="3856.6" font-size="66" text-anchor="middle">9<tspan dx="2.2">π</tspan></text>
<text transform="translate(387.24,3073.61) rotate(-90)" font-size="66">Mode<tspan font-size="74" dy="2.6">−</tspan><tspan dy="-2.6" dx="-2.5">1</tspan></text>
<text transform="translate(594.44,3773.41) rotate(-90)" font-size="66">Mode<tspan font-size="74" dy="2.6">−</tspan><tspan dy="-2.6" dx="-2.5">1</tspan></text>
<text transform="translate(801.84,3577.01) rotate(-90)" font-size="66">Mode<tspan font-size="74" dy="2.6">−</tspan><tspan dy="-2.6" dx="-2.5">1</tspan></text>
<text transform="translate(1002.94,3577.01) rotate(-90)" font-size="66">Mode<tspan font-size="74" dy="2.6">−</tspan><tspan dy="-2.6" dx="-2.5">1</tspan></text>
<text transform="translate(1211.84,3773.81) rotate(-90)" font-size="66">Mode<tspan font-size="74" dy="2.6">−</tspan><tspan dy="-2.6" dx="-2.5">1</tspan></text>
<text transform="translate(1420.94,3060.41) rotate(-90)" font-size="66">Mode<tspan font-size="74" dy="2.6">−</tspan><tspan dy="-2.6" dx="-2.5">1</tspan></text>
<text transform="translate(1629.14,3221.11) rotate(-90)" font-size="66">Mode<tspan font-size="74" dy="2.6">−</tspan><tspan dy="-2.6" dx="-2.5">1</tspan></text>
<text transform="translate(1833.24,3221.11) rotate(-90)" font-size="66">Mode<tspan font-size="74" dy="2.6">−</tspan><tspan dy="-2.6" dx="-2.5">1</tspan></text>
<text transform="translate(2042.34,3061.31) rotate(-90)" font-size="66">Mode<tspan font-size="74" dy="2.6">−</tspan><tspan dy="-2.6" dx="-2.5">1</tspan></text>
<text transform="translate(393.3,3679.06) rotate(-90)" font-size="70" class="m" textLength="245.66" lengthAdjust="spacing">0 <tspan font-size="64">≤</tspan> <tspan class="i">α</tspan> <tspan font-size="64">≤</tspan> <tspan class="i">π</tspan></text>
<text transform="translate(598.3,3162.35) rotate(-90)" font-size="70" class="m" textLength="287.35" lengthAdjust="spacing"><tspan class="i">π</tspan> <tspan font-size="64">≤</tspan> <tspan class="i">α</tspan> <tspan font-size="64">≤</tspan> 2<tspan class="i">π</tspan></text>
<text transform="translate(803.9,3194.16) rotate(-90)" font-size="70" class="m" textLength="319.16" lengthAdjust="spacing">2<tspan class="i">π</tspan> <tspan font-size="64">≤</tspan> <tspan class="i">α</tspan> <tspan font-size="64">≤</tspan> 3<tspan class="i">π</tspan></text>
<text transform="translate(1009.9,3196.66) rotate(-90)" font-size="70" class="m" textLength="319.46" lengthAdjust="spacing">3<tspan class="i">π</tspan> <tspan font-size="64">≤</tspan> <tspan class="i">α</tspan> <tspan font-size="64">≤</tspan> 4<tspan class="i">π</tspan></text>
<text transform="translate(1193.7,3196.66) rotate(-90)" font-size="70" class="m" textLength="321.66" lengthAdjust="spacing">4<tspan class="i">π</tspan> <tspan font-size="64">≤</tspan> <tspan class="i">α</tspan> <tspan font-size="64">≤</tspan> 5<tspan class="i">π</tspan></text>
<text transform="translate(1419.1,3752.56) rotate(-90)" font-size="70" class="m" textLength="320.46" lengthAdjust="spacing">5<tspan class="i">π</tspan> <tspan font-size="64">≤</tspan> <tspan class="i">α</tspan> <tspan font-size="64">≤</tspan> 6<tspan class="i">π</tspan></text>
<text transform="translate(1625.1,3756.06) rotate(-90)" font-size="70" class="m" textLength="322.66" lengthAdjust="spacing">6<tspan class="i">π</tspan> <tspan font-size="64">≤</tspan> <tspan class="i">α</tspan> <tspan font-size="64">≤</tspan> 7<tspan class="i">π</tspan></text>
<text transform="translate(1833.6,3758.26) rotate(-90)" font-size="70" class="m" textLength="320.36" lengthAdjust="spacing">7<tspan class="i">π</tspan> <tspan font-size="64">≤</tspan> <tspan class="i">α</tspan> <tspan font-size="64">≤</tspan> 8<tspan class="i">π</tspan></text>
<text transform="translate(2036.1,3751.66) rotate(-90)" font-size="70" class="m" textLength="319.06" lengthAdjust="spacing">8<tspan class="i">π</tspan> <tspan font-size="64">≤</tspan> <tspan class="i">α</tspan> <tspan font-size="64">≤</tspan> 9<tspan class="i">π</tspan></text>
<text x="1145.75" y="3999" font-size="66" text-anchor="middle">Phase<tspan font-size="74" dy="2.6">−</tspan><tspan dy="-2.6">C</tspan></text>
<text x="1143.7" y="4079.1" font-size="66" text-anchor="middle" letter-spacing="1.9">(c)</text>
</g>
</svg></body></html>
